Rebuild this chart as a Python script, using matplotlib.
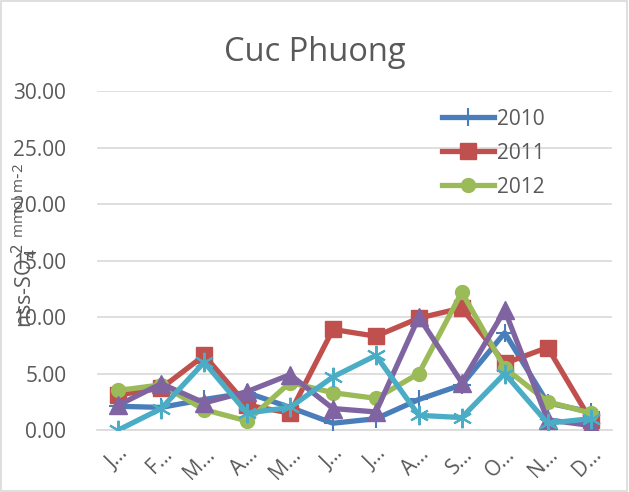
import matplotlib.pyplot as plt
from matplotlib.patches import Rectangle

months = ['J…', 'F…', 'M…', 'A…', 'M…', 'J…', 'J…', 'A…', 'S…', 'O…', 'N…', 'D…']

y2010 = [2.1, 2.0, 2.7, 3.3, 2.0, 0.6, 1.0, 2.7, 4.0, 8.6, 2.4, 1.6]
y2011 = [3.1, 3.7, 6.6, 2.2, 1.5, 8.9, 8.3, 9.9, 10.8, 5.9, 7.3, 0.9]
y2012 = [3.5, 4.0, 1.8, 0.8, 4.2, 3.3, 2.8, 5.0, 12.2, 5.5, 2.5, 1.5]
y2013 = [2.2, 4.1, 2.4, 3.4, 4.9, 1.9, 1.6, 10.0, 4.2, 10.6, 0.9, 0.4]
y2014 = [0.0, 1.9, 6.0, 1.5, 2.0, 4.7, 6.6, 1.3, 1.1, 5.0, 0.6, 1.0]

plt.rcParams['font.family'] = ['Open Sans', 'DejaVu Sans']

fig = plt.figure(figsize=(6.29, 4.92), dpi=100)
ax = fig.add_axes([0.154, 0.126, 0.819, 0.689])

x = list(range(len(months)))
lw = 3.8
ax.plot(x, y2010, color='#4A7EBB', lw=lw, marker='+', ms=13, mew=1.5, label='2010', zorder=3)
ax.plot(x, y2011, color='#C0504D', lw=lw, marker='s', ms=11, label='2011', zorder=3)
ax.plot(x, y2012, color='#9BBB59', lw=lw, marker='o', ms=10, label='2012', zorder=3)
ax.plot(x, y2013, color='#8064A2', lw=lw, marker='^', ms=13, zorder=3)
ax.plot(x, y2014, color='#4BACC6', lw=lw, marker=(6, 2, 0), ms=14, mew=1.5, zorder=3)

ax.set_xlim(-0.5, 11.5)
ax.set_ylim(0, 30)
ax.set_yticks(range(0, 31, 5))
ax.set_yticklabels([f'{v:.2f}' for v in range(0, 31, 5)])
ax.set_xticks(x)
ax.set_xticklabels(months, rotation=45, ha='right', rotation_mode='anchor')
ax.tick_params(axis='both', length=0, labelsize=15, colors='#595959')
ax.tick_params(axis='y', pad=22)
ax.tick_params(axis='x', pad=10)
ax.grid(axis='y', color='#D9D9D9', lw=1.2)
ax.set_axisbelow(True)
for s in ['top', 'right', 'left']:
    ax.spines[s].set_visible(False)
ax.spines['bottom'].set_color('#D9D9D9')
ax.spines['bottom'].set_linewidth(1.2)

ax.legend(loc='upper right', bbox_to_anchor=(0.905, 1.003), frameon=False,
          fontsize=15, labelcolor='#595959', handlelength=2.5,
          handletextpad=0.1, labelspacing=0.62)

fig.text(0.5, 0.893, 'Cuc Phuong', ha='center', va='center', fontsize=23.5, color='#595959')
fig.text(0.04, 0.5, r'nss-SO$_4^{\ 2}$ $\mathregular{^{mmol\ m\text{-}2}}$', rotation=90,
         ha='center', va='center', fontsize=15.5, color='#595959')

fig.add_artist(Rectangle((0.002, 0.002), 0.995, 0.995, transform=fig.transFigure,
                         fill=False, edgecolor='#D9D9D9', lw=1.2))

fig.savefig('out.png', dpi=100)
